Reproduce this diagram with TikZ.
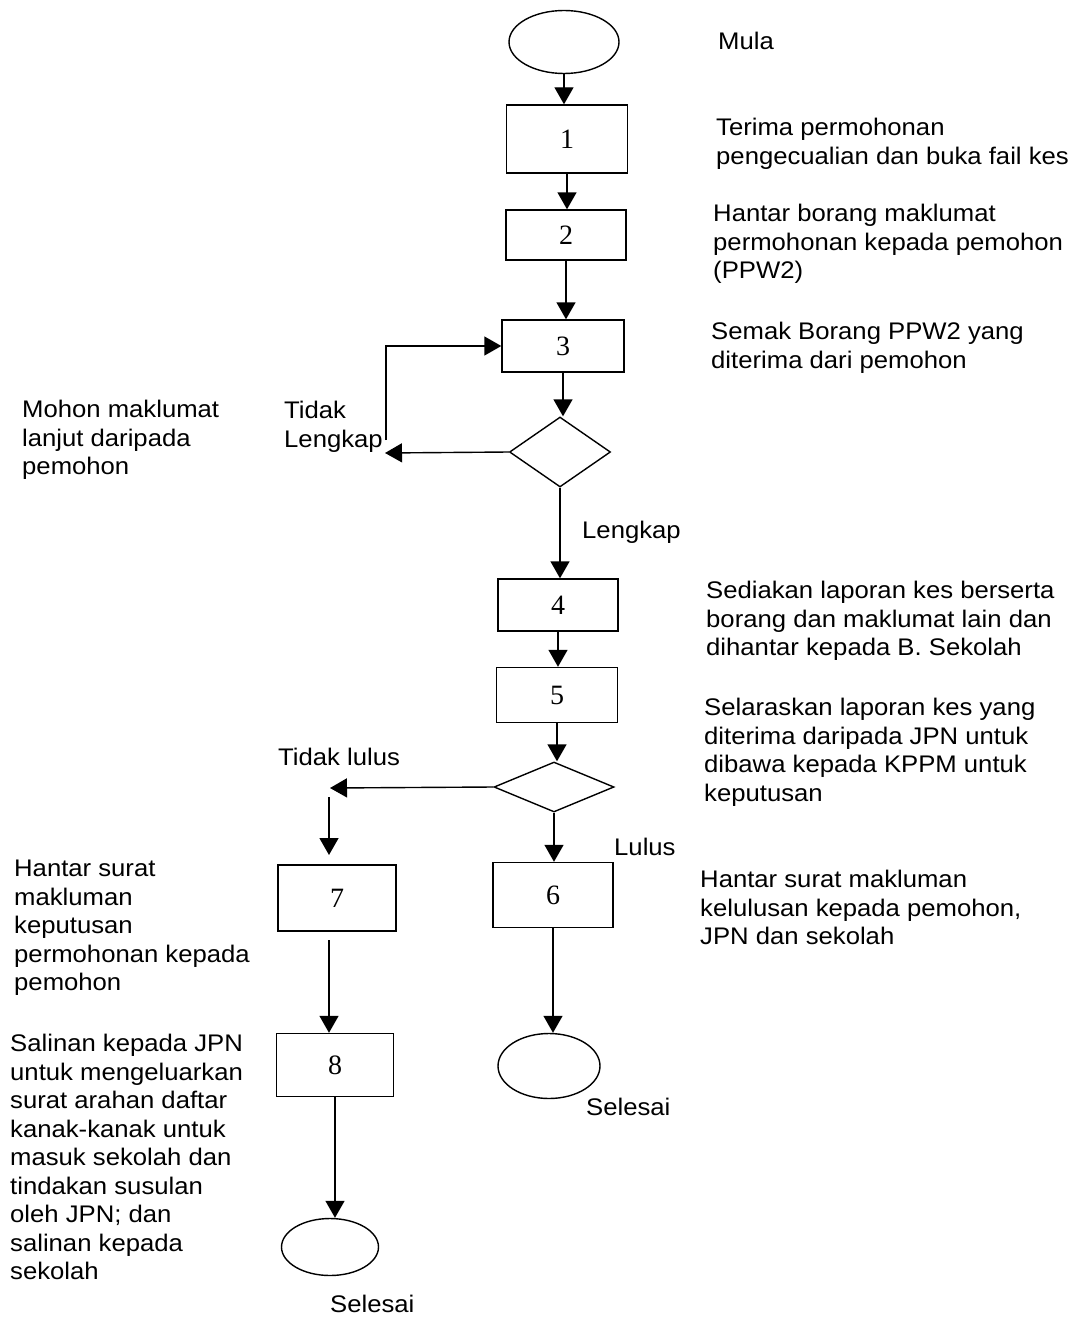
\documentclass[tikz,border=0pt]{standalone}
\usepackage{fontspec}
\setmainfont[FakeStretch=1.07]{Liberation Sans}
\newfontfamily\numfont{Liberation Serif}
\usetikzlibrary{shapes.geometric,arrows.meta}
\begin{document}
\begin{tikzpicture}[x=1pt,y=-1pt,
 box/.style={draw,line width=1.4pt,inner sep=0pt,font=\numfont\fontsize{28}{28}\selectfont},
 term/.style={draw,ellipse,line width=1.4pt,inner sep=0pt},
 dec/.style={draw,diamond,line width=1.4pt,inner sep=0pt},
 lbl/.style={anchor=north west,align=left,inner sep=0pt,font=\fontsize{24}{28.5}\selectfont},
 arr/.style={line width=1.4pt,-{Triangle[length=17pt,width=19pt]}},
 ln/.style={line width=1.4pt}]
\useasboundingbox (0,0) rectangle (1075,1319);

% shapes
\node[term,minimum width=110pt,minimum height=63pt] (start) at (564,42) {};
\node[box,minimum width=121pt,minimum height=68pt] (b1) at (567,139) {1};
\node[box,minimum width=120pt,minimum height=50pt] (b2) at (566,235) {2};
\node[box,minimum width=122pt,minimum height=52pt] (b3) at (563,346) {3};
\node[dec,minimum width=101pt,minimum height=70pt] (d1) at (560,452) {};
\node[box,minimum width=120pt,minimum height=52pt] (b4) at (558,605) {4};
\node[box,minimum width=121pt,minimum height=55pt] (b5) at (557,695) {5};
\node[dec,minimum width=120pt,minimum height=50pt] (d2) at (554,787) {};
\node[box,minimum width=120pt,minimum height=65pt] (b6) at (553,895) {6};
\node[box,minimum width=118pt,minimum height=66pt] (b7) at (337,898) {7};
\node[box,minimum width=117pt,minimum height=63pt] (b8) at (335,1065) {8};
\node[term,minimum width=102pt,minimum height=65pt] (e6) at (549,1066) {};
\node[term,minimum width=97pt,minimum height=57pt] (e8) at (330,1247) {};

\coordinate (lp) at (386,440);
\coordinate (tl) at (385,453);
\coordinate (tn) at (330,788);
\coordinate (tn2) at (329,797);
\coordinate (e7) at (329,855);
\coordinate (s7) at (329,940);

% connectors
\draw[arr] (start.south) -- (start.south |- b1.north);
\draw[arr] (b1.south) -- (b1.south |- b2.north);
\draw[arr] (b2.south) -- (b2.south |- b3.north);
\draw[arr] (b3.south) -- (b3.south |- d1.north);
\draw[arr] (d1.west) -- (tl);
\draw[arr] (lp) |- (b3.west);
\draw[arr] (d1.south) -- (d1.south |- b4.north);
\draw[arr] (b4.south) -- (b4.south |- b5.north);
\draw[arr] (b5.south) -- (b5.south |- d2.north);
\draw[arr] (d2.west) -- (tn);
\draw[arr] (tn2) -- (e7);
\draw[arr] (d2.south) -- (d2.south |- b6.north);
\draw[arr] (b6.south) -- (b6.south |- e6.north);
\draw[arr] (s7) -- (s7 |- b8.north);
\draw[arr] (b8.south) -- (b8.south |- e8.north);

% labels
\node[lbl] (tmula) at (718,32) {Mula};
\node[lbl] (t1) at (716,118) {Terima permohonan\\pengecualian dan buka fail kes};
\node[lbl] (t2) at (713,204) {Hantar borang maklumat\\permohonan kepada pemohon\\(PPW2)};
\node[lbl] (t3) at (711,322) {Semak Borang PPW2 yang\\diterima dari pemohon};
\node[lbl] (tmohon) at (22,400) {Mohon maklumat\\lanjut daripada\\pemohon};
\node[lbl] (ttl) at (284,401) {Tidak\\Lengkap};
\node[lbl] (tlk) at (582,521) {Lengkap};
\node[lbl] (t4) at (706,581) {Sediakan laporan kes berserta\\borang dan maklumat lain dan\\dihantar kepada B. Sekolah};
\node[lbl] (t5) at (704,698) {Selaraskan laporan kes yang\\diterima daripada JPN untuk\\dibawa kepada KPPM untuk\\keputusan};
\node[lbl] (ttlulus) at (278,748) {Tidak lulus};
\node[lbl] (tlulus) at (614,838) {Lulus};
\node[lbl] (t6) at (700,870) {Hantar surat makluman\\kelulusan kepada pemohon,\\JPN dan sekolah};
\node[lbl] (t7) at (14,860) {Hantar surat\\makluman\\keputusan\\permohonan kepada\\pemohon};
\node[lbl] (t8) at (10,1034) {Salinan kepada JPN\\untuk mengeluarkan\\surat arahan daftar\\kanak-kanak untuk\\masuk sekolah dan\\tindakan susulan\\oleh JPN; dan\\salinan kepada\\sekolah};
\node[lbl] (tsel6) at (586,1098) {Selesai};
\node[lbl] (tsel8) at (330,1295) {Selesai};
\end{tikzpicture}
\end{document}
